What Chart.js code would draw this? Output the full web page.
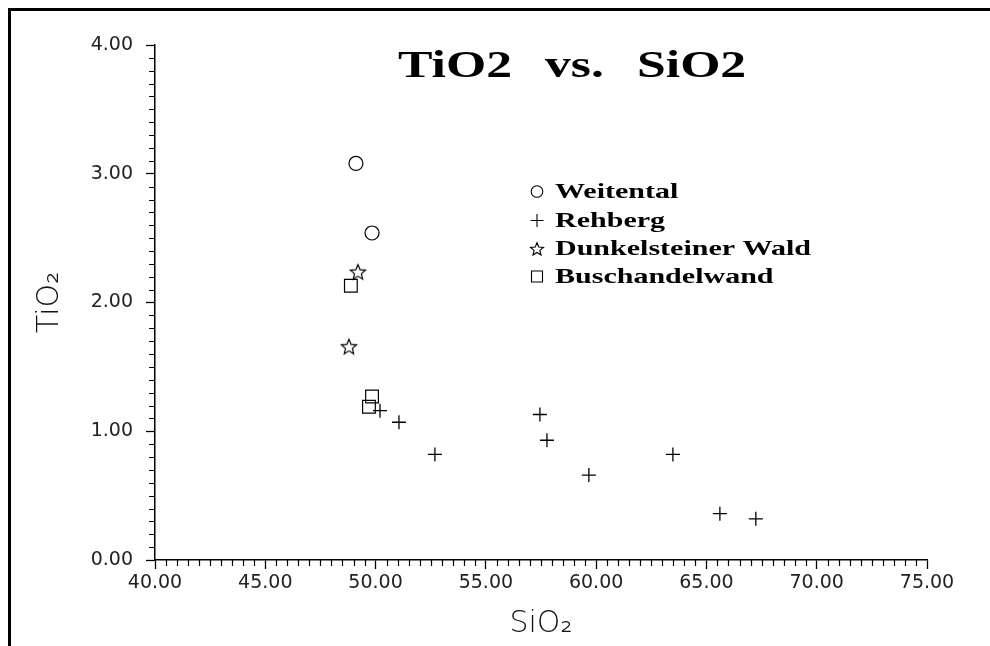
<!DOCTYPE html>
<html>
<head>
<meta charset="utf-8">
<script src="https://cdn.jsdelivr.net/npm/chart.js@4.4.1/dist/chart.umd.min.js"></script>
<style>
  html, body { margin: 0; padding: 0; background: #fff; }
  canvas { display: block; }
</style>
</head>
<body>
<canvas id="grafico" width="990" height="646"></canvas>
<script>
// nombres de las series (leyenda)
const series = ["Weitental", "Rehberg", "Dunkelsteiner Wald", "Buschandelwand"];

// SiO2 (x) y TiO2 (y) por localidad
const weitentalX = [49.11, 49.84];
const weitentalY = [3.08, 2.54];
const rehbergX = [50.20, 51.06, 52.69, 57.45, 57.77, 59.67, 63.48, 65.61, 67.24];
const rehbergY = [1.16, 1.07, 0.82, 1.13, 0.93, 0.66, 0.82, 0.36, 0.32];
const dunkelX = [49.20, 48.79];
const dunkelY = [2.24, 1.66];
const buschX = [48.88, 49.84, 49.70];
const buschY = [2.13, 1.27, 1.19];

// ejes
const xMin = 40, xMax = 75, xPaso = 0.5, xMayor = 5;
const yMin = 0, yMax = 4, yPaso = 0.1, yMayor = 1;

const pares = (xs, ys) => xs.map((x, i) => ({ x: x, y: ys[i] }));
const esMayor = (v, m) => Math.abs(v / m - Math.round(v / m)) < 1e-6;

// estrella de cinco puntas sin relleno
function hacerEstrella(r, grosor) {
  const c = document.createElement("canvas");
  c.width = c.height = Math.ceil(2 * r + 4);
  const g = c.getContext("2d");
  g.strokeStyle = "#000";
  g.lineWidth = grosor;
  g.lineJoin = "miter";
  g.beginPath();
  for (let i = 0; i < 10; i++) {
    const a = -Math.PI / 2 + (i * Math.PI) / 5;
    const rr = i % 2 ? r * 0.45 : r;
    g.lineTo(c.width / 2 + rr * Math.cos(a), c.height / 2 + 1 + rr * Math.sin(a));
  }
  g.closePath();
  g.stroke();
  return c;
}
const estrella = hacerEstrella(8, 1.2);

function simbolo(ctx, tipo, x, y) {
  ctx.save();
  ctx.strokeStyle = "#000";
  ctx.lineWidth = 1.1;
  ctx.beginPath();
  if (tipo === "circle") {
    ctx.arc(x, y, 5.8, 0, Math.PI * 2);
  } else if (tipo === "cross") {
    ctx.moveTo(x - 6.5, y); ctx.lineTo(x + 6.5, y);
    ctx.moveTo(x, y - 6.5); ctx.lineTo(x, y + 6.5);
  } else if (tipo === "star") {
    for (let i = 0; i < 10; i++) {
      const a = -Math.PI / 2 + (i * Math.PI) / 5;
      const rr = i % 2 ? 3 : 6.8;
      ctx.lineTo(x + rr * Math.cos(a), y + 1 + rr * Math.sin(a));
    }
    ctx.closePath();
  } else {
    ctx.rect(x - 5.5, y - 5.5, 11, 11);
  }
  ctx.stroke();
  ctx.restore();
}

function textoAncho(ctx, txt, x, y, sx) {
  ctx.save();
  ctx.translate(x, y);
  ctx.scale(sx, 1);
  ctx.fillText(txt, 0, 0);
  ctx.restore();
}

const estilos = ["circle", "cross", "star", "rect"];

const extras = {
  id: "extras",
  afterDraw(chart) {
    const ctx = chart.ctx;
    const sx = chart.scales.x, sy = chart.scales.y;
    ctx.save();
    // marco
    ctx.fillStyle = "#000";
    ctx.fillRect(8, 8, 982, 3);
    ctx.fillRect(8, 8, 3, 638);

    // marcas menores
    ctx.strokeStyle = "#000";
    ctx.lineWidth = 1.2;
    ctx.beginPath();
    sy.ticks.forEach((t) => {
      if (esMayor(t.value, yMayor)) return;
      const py = Math.round(sy.getPixelForValue(t.value)) + 0.5;
      ctx.moveTo(sx.left - 6, py);
      ctx.lineTo(sx.left - 1, py);
    });
    sx.ticks.forEach((t) => {
      if (esMayor(t.value, xMayor)) return;
      const px = Math.round(sx.getPixelForValue(t.value)) + 0.5;
      ctx.moveTo(px, sy.bottom);
      ctx.lineTo(px, sy.bottom + 6);
    });
    ctx.stroke();

    // titulo
    ctx.fillStyle = "#000";
    ctx.textBaseline = "alphabetic";
    ctx.textAlign = "left";
    ctx.font = 'bold 37px "Liberation Serif"';
    const escT = 114 / ctx.measureText("TiO2").width;
    textoAncho(ctx, "TiO2", 398, 77, escT);
    textoAncho(ctx, "vs.", 545, 77, escT);
    textoAncho(ctx, "SiO2", 637, 77, escT);

    // leyenda
    ctx.font = 'bold 21px "Liberation Serif"';
    const escL = 256 / ctx.measureText("Dunkelsteiner Wald").width;
    const bases = [198, 227, 255, 283];
    series.forEach((nombre, i) => {
      simbolo(ctx, estilos[i], 537, bases[i] - 6.5);
      textoAncho(ctx, nombre, 555, bases[i], escL);
    });
    ctx.restore();
  }
};

const fuenteTick = { family: "DejaVu Sans", size: 19 };
const fuenteTitulo = { family: "DejaVu Sans", size: 30, weight: 200 };

new Chart(document.getElementById("grafico"), {
  type: "scatter",
  data: {
    datasets: [
      {
        label: series[0],
        data: pares(weitentalX, weitentalY),
        pointStyle: "circle",
        pointRadius: 7,
        pointBorderWidth: 1.2,
        pointBorderColor: "#000",
        pointBackgroundColor: "rgba(0,0,0,0)"
      },
      {
        label: series[1],
        data: pares(rehbergX, rehbergY),
        pointStyle: "cross",
        pointRadius: 7,
        pointBorderWidth: 1.3,
        pointBorderColor: "#000",
        pointBackgroundColor: "rgba(0,0,0,0)"
      },
      {
        label: series[2],
        data: pares(dunkelX, dunkelY),
        pointStyle: estrella,
        pointRadius: 8,
        pointBorderColor: "#000"
      },
      {
        label: series[3],
        data: pares(buschX, buschY),
        pointStyle: "rect",
        pointRadius: 9,
        pointBorderWidth: 1.2,
        pointBorderColor: "#000",
        pointBackgroundColor: "rgba(0,0,0,0)"
      }
    ]
  },
  options: {
    responsive: false,
    animation: false,
    events: [],
    devicePixelRatio: 1,
    layout: { padding: { left: 0, top: 45, right: 63, bottom: 0 } },
    plugins: {
      legend: { display: false },
      title: { display: false },
      tooltip: { enabled: false }
    },
    scales: {
      x: {
        type: "linear",
        min: xMin,
        max: xMax,
        afterFit: (s) => { s.height = 86; },
        ticks: {
          stepSize: xPaso,
          autoSkip: false,
          maxRotation: 0,
          padding: 3,
          color: "#222",
          font: fuenteTick,
          callback: (v) => (esMayor(v, xMayor) ? Number(v).toFixed(2) : "")
        },
        grid: {
          drawOnChartArea: false,
          tickLength: 9,
          tickWidth: 1.3,
          tickColor: (c) => (c.tick && esMayor(c.tick.value, xMayor) ? "#000" : "rgba(0,0,0,0)")
        },
        border: { color: "#000", width: 1.5 },
        title: {
          display: true,
          text: "SiO₂",
          color: "#111",
          font: fuenteTitulo,
          padding: { top: 0, bottom: 4 }
        }
      },
      y: {
        type: "linear",
        min: yMin,
        max: yMax,
        afterFit: (s) => { s.width = 155; },
        ticks: {
          stepSize: yPaso,
          autoSkip: false,
          padding: 13,
          color: "#222",
          font: fuenteTick,
          callback: (v) => (esMayor(v, yMayor) ? Number(v).toFixed(2) : "")
        },
        grid: {
          drawOnChartArea: false,
          tickLength: 9,
          tickWidth: 1.3,
          tickColor: (c) => (c.tick && esMayor(c.tick.value, yMayor) ? "#000" : "rgba(0,0,0,0)")
        },
        border: { color: "#000", width: 1.5 },
        title: {
          display: true,
          text: "TiO₂",
          color: "#111",
          font: fuenteTitulo,
          padding: { top: 32, bottom: 0 }
        }
      }
    }
  },
  plugins: [extras]
});
</script>
</body>
</html>
